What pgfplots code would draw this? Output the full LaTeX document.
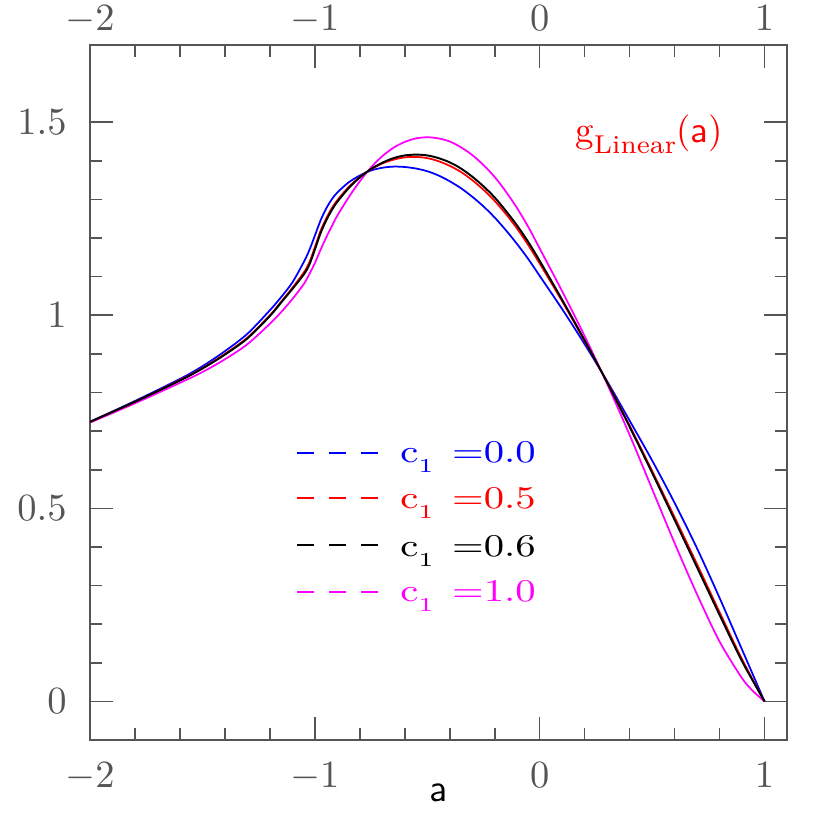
\documentclass[border=0pt]{standalone}
\usepackage{pgfplots}
\pgfplotsset{compat=1.18}
\usepackage{graphicx}
\usetikzlibrary{calc}
\definecolor{axgray}{RGB}{85,85,85}
\definecolor{mag}{RGB}{255,0,255}

\begin{document}
\begin{tikzpicture}
\begin{axis}[
    width=69.7mm, height=69.5mm, scale only axis,
    xmin=-2, xmax=1.1, ymin=-0.1, ymax=1.7,
    xtick={-2,-1,0,1}, ytick={0,0.5,1,1.5},
    minor x tick num=4, minor y tick num=4,
    xtick pos=both, ytick pos=both,
    xticklabel pos=lower, yticklabel pos=left,
    tick align=inside,
    major tick length=2.3mm, minor tick length=1.2mm,
    axis line style={draw=axgray, line width=0.5pt},
    tick style={draw=axgray, line width=0.45pt},
    tick label style={font=\fontsize{10.5}{12}\selectfont, text=axgray},
    xticklabel style={yshift=-1mm},
    yticklabel style={xshift=-1.1mm},
    xlabel={\textsf{a}},
    xlabel style={at={(axis description cs:0.5,0)}, anchor=base, yshift=-6.2mm,
                  font=\fontsize{11}{13}\selectfont},
]
\coordinate (bl) at (rel axis cs:0,0);
\coordinate (tr) at (rel axis cs:1,1);

% c1 = 0.0
\addplot[blue, line width=0.5pt, smooth] table {
-2.000 0.724
-1.800 0.778
-1.600 0.835
-1.500 0.868
-1.400 0.907
-1.300 0.952
-1.200 1.013
-1.150 1.047
-1.100 1.085
-1.050 1.137
-1.025 1.168
-1.000 1.206
-0.975 1.245
-0.950 1.276
-0.925 1.300
-0.900 1.318
-0.850 1.344
-0.800 1.362
-0.750 1.375
-0.700 1.382
-0.650 1.385
-0.600 1.384
-0.550 1.380
-0.500 1.373
-0.450 1.362
-0.400 1.347
-0.350 1.329
-0.300 1.307
-0.250 1.282
-0.200 1.253
-0.150 1.220
-0.100 1.184
-0.050 1.145
0.000 1.102
0.100 1.016
0.200 0.925
0.300 0.829
0.400 0.727
0.500 0.624
0.600 0.514
0.700 0.396
0.800 0.268
0.900 0.134
1.000 0.000
};
% c1 = 1.0
\addplot[mag, line width=0.5pt, smooth] table {
-2.000 0.722
-1.800 0.772
-1.600 0.825
-1.500 0.853
-1.400 0.886
-1.300 0.925
-1.200 0.978
-1.150 1.008
-1.100 1.042
-1.050 1.080
-1.025 1.106
-1.000 1.135
-0.975 1.169
-0.950 1.201
-0.925 1.230
-0.900 1.258
-0.850 1.305
-0.800 1.347
-0.750 1.383
-0.700 1.412
-0.650 1.434
-0.600 1.449
-0.550 1.458
-0.500 1.461
-0.450 1.458
-0.400 1.450
-0.350 1.435
-0.300 1.415
-0.250 1.389
-0.200 1.358
-0.150 1.320
-0.100 1.277
-0.050 1.228
0.000 1.173
0.100 1.062
0.200 0.946
0.300 0.822
0.400 0.690
0.500 0.550
0.600 0.410
0.700 0.277
0.800 0.155
0.900 0.060
0.950 0.026
1.000 0.000
};
% c1 = 0.5
\addplot[red, line width=0.5pt, smooth] table {
-2.000 0.724
-1.800 0.776
-1.600 0.832
-1.500 0.863
-1.400 0.900
-1.300 0.942
-1.200 1.000
-1.150 1.035
-1.100 1.071
-1.050 1.110
-1.025 1.136
-1.000 1.176
-0.975 1.218
-0.950 1.250
-0.925 1.277
-0.900 1.298
-0.850 1.332
-0.800 1.358
-0.750 1.378
-0.700 1.393
-0.650 1.403
-0.600 1.409
-0.550 1.410
-0.500 1.407
-0.450 1.399
-0.400 1.387
-0.350 1.371
-0.300 1.350
-0.250 1.325
-0.200 1.296
-0.150 1.262
-0.100 1.224
-0.050 1.181
0.000 1.134
0.100 1.036
0.200 0.933
0.300 0.827
0.400 0.714
0.500 0.597
0.600 0.477
0.700 0.355
0.800 0.231
0.900 0.109
1.000 0.000
};
% c1 = 0.6
\addplot[black, line width=0.55pt, smooth] table {
-2.000 0.724
-1.800 0.776
-1.600 0.831
-1.500 0.862
-1.400 0.898
-1.300 0.940
-1.200 0.998
-1.150 1.033
-1.100 1.068
-1.050 1.105
-1.025 1.130
-1.000 1.170
-0.975 1.212
-0.950 1.245
-0.925 1.272
-0.900 1.294
-0.850 1.329
-0.800 1.357
-0.750 1.379
-0.700 1.395
-0.650 1.407
-0.600 1.414
-0.550 1.416
-0.500 1.414
-0.450 1.407
-0.400 1.396
-0.350 1.380
-0.300 1.359
-0.250 1.334
-0.200 1.305
-0.150 1.270
-0.100 1.232
-0.050 1.189
0.000 1.141
0.100 1.040
0.200 0.935
0.300 0.826
0.400 0.711
0.500 0.592
0.600 0.470
0.700 0.347
0.800 0.224
0.900 0.104
1.000 0.000
};

% hand-made key
\addplot[blue, line width=0.5pt, dash pattern=on 1.7mm off 1.5mm] coordinates {(-1.08,0.644) (-0.711,0.644)};
\addplot[red, line width=0.5pt, dash pattern=on 1.7mm off 1.5mm] coordinates {(-1.08,0.526) (-0.711,0.526)};
\addplot[black, line width=0.5pt, dash pattern=on 1.7mm off 1.5mm] coordinates {(-1.08,0.405) (-0.711,0.405)};
\addplot[mag, line width=0.5pt, dash pattern=on 1.7mm off 1.5mm] coordinates {(-1.08,0.284) (-0.711,0.284)};

\tikzset{key/.style={anchor=base west, inner sep=0pt, font=\fontsize{9}{10}\selectfont}}
\node[key, text=blue] at (axis cs:-0.623,0.618)
  {\scalebox{1.25}[1]{c\raisebox{-1mm}{\fontsize{5.6}{6}\selectfont 1}\hspace{1.5mm}=0.0}};
\node[key, text=red] at (axis cs:-0.623,0.499)
  {\scalebox{1.25}[1]{c\raisebox{-1mm}{\fontsize{5.6}{6}\selectfont 1}\hspace{1.5mm}=0.5}};
\node[key, text=black] at (axis cs:-0.623,0.376)
  {\scalebox{1.25}[1]{c\raisebox{-1mm}{\fontsize{5.6}{6}\selectfont 1}\hspace{1.5mm}=0.6}};
\node[key, text=mag] at (axis cs:-0.623,0.259)
  {\scalebox{1.25}[1]{c\raisebox{-1mm}{\fontsize{5.6}{6}\selectfont 1}\hspace{1.5mm}=1.0}};

\node[anchor=base west, inner sep=0pt, text=red, font=\fontsize{10.5}{12}\selectfont]
  at (axis cs:0.156,1.448)
  {g\raisebox{-1.1mm}{\fontsize{7.35}{8}\selectfont Linear}(\textsf{a})};
\end{axis}

% tick labels along the top edge
\begin{axis}[
    width=69.7mm, height=69.5mm, scale only axis,
    xmin=-2, xmax=1.1, ymin=-0.1, ymax=1.7,
    hide y axis,
    axis line style={draw=none},
    xtick={-2,-1,0,1}, minor x tick num=0,
    xtick style={draw=none},
    xticklabel pos=upper,
    tick label style={font=\fontsize{10.5}{12}\selectfont, text=axgray},
    xticklabel style={inner sep=0pt, anchor=base, yshift=1.4mm},
]
\end{axis}

\pgfresetboundingbox
\path ($(bl)+(-9mm,-9mm)$) rectangle ($(tr)+(4.3mm,4.5mm)$);
\end{tikzpicture}
\end{document}
